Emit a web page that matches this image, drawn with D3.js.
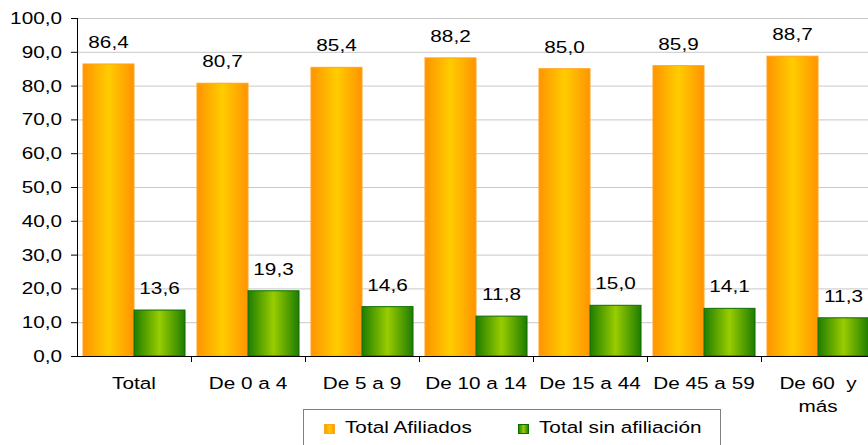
<!DOCTYPE html>
<html><head><meta charset="utf-8">
<script src="https://cdn.jsdelivr.net/npm/d3@7"></script>
<style>body{margin:0;background:#fff}svg{display:block}text{font-family:"Liberation Sans",Arial,sans-serif;fill:#000}</style>
</head><body><svg id="c" width="868" height="445"></svg>
<script>
const categories = ["Total","De 0 a 4","De 5 a 9","De 10 a 14","De 15 a 44","De 45 a 59","De 60  y|más"];
const afiliados = [86.4, 80.7, 85.4, 88.2, 85.0, 85.9, 88.7];
const sinAfiliacion = [13.6, 19.3, 14.6, 11.8, 15.0, 14.1, 11.3];
const seriesNames = ["Total Afiliados", "Total sin afiliación"];
const yTicks = [0,10,20,30,40,50,60,70,80,90,100];

const svg = d3.select("#c");
const SX = 1.22, FS = 17;
const fmt = v => v.toFixed(1).replace(".", ",");

const defs = svg.append("defs");
function grad(id, edge, mid){
  const g = defs.append("linearGradient").attr("id", id).attr("x1","0").attr("x2","1").attr("y1","0").attr("y2","0");
  g.append("stop").attr("offset","0").attr("stop-color",edge);
  g.append("stop").attr("offset","0.5").attr("stop-color",mid);
  g.append("stop").attr("offset","1").attr("stop-color",edge);
}
grad("gO", "#FF9400", "#FFCC00");
grad("gG", "#1F7D00", "#99CC00");

const y = d3.scaleLinear().domain([0,100]).range([356,18]);
const x0 = d3.scaleBand().domain(categories).range([77,875]).paddingInner(0.105).paddingOuter(0.0525);
const x1 = d3.scaleBand().domain([0,1]).range([0, x0.bandwidth()]);

function stext(g, x, yy, str, anchor){
  return g.append("text").attr("transform", `translate(${x},${yy}) scale(${SX},1)`)
    .attr("text-anchor", anchor).attr("font-size", FS).text(str);
}

// gridlines
svg.append("g").selectAll("line").data(yTicks.filter(t=>t>0)).join("line")
  .attr("x1",77).attr("x2",868).attr("y1",d=>y(d)+0.5).attr("y2",d=>y(d)+0.5)
  .attr("stroke","#c8c8c8").attr("stroke-width",1);

// bars
const series = [afiliados, sinAfiliacion];
const fills = ["url(#gO)","url(#gG)"];
const strokes = ["#FFA51F","#0B6E00"];
series.forEach((vals, si) => {
  svg.append("g").selectAll("rect").data(vals).join("rect")
    .attr("x", (d,i)=>x0(categories[i]) + x1(si))
    .attr("y", d=>y(d))
    .attr("width", x1.bandwidth())
    .attr("height", d=>y(0)-y(d))
    .attr("fill", fills[si])
    .attr("stroke", strokes[si]).attr("stroke-width", 1);
  const lg = svg.append("g");
  vals.forEach((d,i)=>{
    stext(lg, x0(categories[i]) + x1(si) + x1.bandwidth()/2, y(d)-16, fmt(d), "middle");
  });
});

// y axis
const ya = svg.append("g");
ya.append("line").attr("x1",77.5).attr("x2",77.5).attr("y1",y(100)).attr("y2",y(0)).attr("stroke","#000");
yTicks.forEach(t=>{
  ya.append("line").attr("x1",71).attr("x2",77).attr("y1",y(t)+0.5).attr("y2",y(t)+0.5).attr("stroke","#000");
  stext(ya, 62, y(t)+6, fmt(t), "end");
});

// x axis
const xa = svg.append("g");
xa.append("line").attr("x1",77).attr("x2",868).attr("y1",y(0)+0.5).attr("y2",y(0)+0.5).attr("stroke","#000");
const step = x0.step();
categories.forEach((c,i)=>{
  const bx = x0(c) - x0.paddingOuter()*step;
  if(i>0) xa.append("line").attr("x1",Math.round(bx)+0.5).attr("x2",Math.round(bx)+0.5).attr("y1",y(0)).attr("y2",y(0)+6).attr("stroke","#000");
  const cx = x0(c) + x0.bandwidth()/2;
  c.split("|").forEach((ln, li)=>{
    stext(xa, cx, 389 + li*23, ln, "middle").attr("xml:space","preserve").style("white-space","pre");
  });
});

// legend
const lgd = svg.append("g");
lgd.append("rect").attr("x",303.5).attr("y",409.5).attr("width",417).attr("height",50).attr("fill","#fff").attr("stroke","#808080");
const legX = [324, 518];
seriesNames.forEach((n,i)=>{
  lgd.append("rect").attr("x",legX[i]+0.5).attr("y",424.5).attr("width",10).attr("height",9).attr("fill",fills[i]).attr("stroke",strokes[i]);
  stext(lgd, legX[i]+21, 433, n, "start");
});
</script></body></html>
